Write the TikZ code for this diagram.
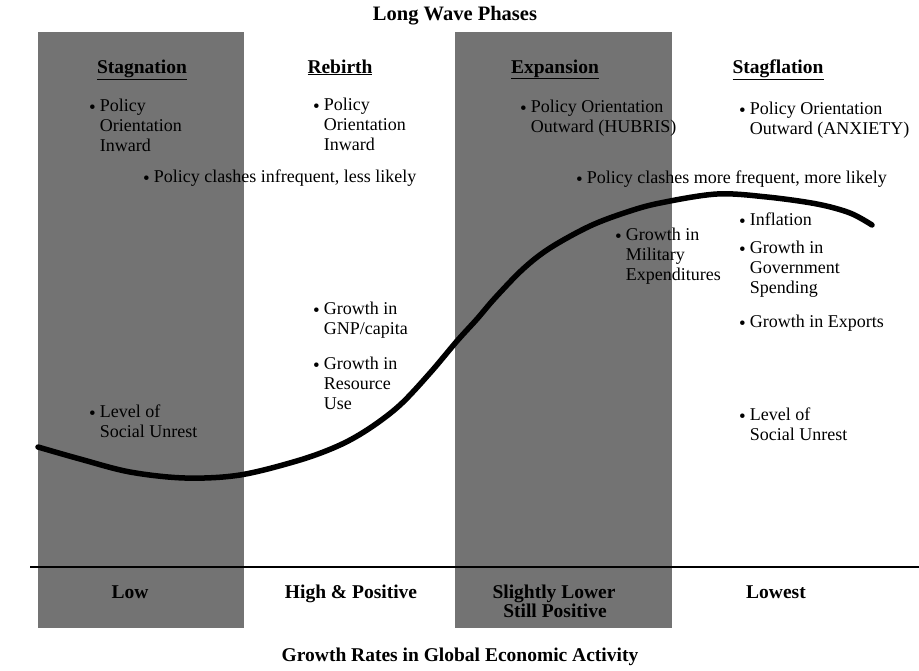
\documentclass[tikz,border=0pt]{standalone}
\usepackage{fontspec}
\setmainfont{Liberation Serif}
\newcommand{\bodyfs}{\fontsize{18}{20}\selectfont}
\newcommand{\headfs}{\fontsize{19.5}{21}\selectfont\bfseries}
\newcommand{\bul}{\raisebox{-2pt}{\fontsize{19}{19}\selectfont\textbullet}}
\newcommand{\itm}[1]{\begin{tabular}[t]{@{}l@{\hspace{4pt}}l@{}}\bul & #1\end{tabular}}
\tikzset{
  phasebox/.style={fill=black!55, draw=none},
  body/.style={font=\bodyfs, inner sep=0pt, anchor=base west},
  head/.style={font=\headfs, inner sep=0pt, anchor=base},
  curve/.style={line width=5.5pt, line cap=round, line join=round},
  axis/.style={line width=2.6pt}
}
\begin{document}
\begin{tikzpicture}[x=1pt,y=-1pt]
\useasboundingbox (0,0) rectangle (919,670);
% shaded phases
\fill[phasebox] (38,32) rectangle (244,628);
\fill[phasebox] (455,32) rectangle (672,628);
% axis line
\coordinate (axl) at (30,567);
\coordinate (axr) at (919,567);
\draw[axis] (axl) -- (axr);
% long wave curve
\draw[curve] plot[smooth, tension=0.55] coordinates {
 (38,447) (80,459) (130,472) (185,478) (240,475) (300,460) (340,445)
 (370,428) (400,405) (430,373) (457,341) (477,319) (495,298) (523,269)
 (550,248) (590,226) (627,212) (660,203) (717,194) (767,197) (817,204)
 (850,213) (872,225)};
% titles
\node[head, font=\fontsize{20.5}{22}\selectfont\bfseries] (title) at (455,20) {Long Wave Phases};
\node[head] (xtitle) at (460,661) {Growth Rates in Global Economic Activity};
% phase headings
\node[head] (h1) at (142,73) {\underline{Stagnation}};
\node[head] (h2) at (340,73) {\underline{Rebirth}};
\node[head] (h3) at (555,73) {\underline{Expansion}};
\node[head] (h4) at (778,73) {\underline{Stagflation}};
% stagnation
\node[body] (s1) at (89,111) {\itm{Policy\\ & Orientation\\ & Inward}};
\node[body] (s2) at (143,182) {\itm{Policy clashes infrequent, less likely}};
\node[body] (s3) at (89,417) {\itm{Level of\\ & Social Unrest}};
% rebirth
\node[body] (r1) at (313,110) {\itm{Policy\\ & Orientation\\ & Inward}};
\node[body] (r2) at (313,314) {\itm{Growth in\\ & GNP/capita}};
\node[body] (r3) at (313,369) {\itm{Growth in\\ & Resource\\ & Use}};
% expansion
\node[body] (e1) at (520,112) {\itm{Policy Orientation\\ & Outward (HUBRIS)}};
\node[body] (e2) at (576,183) {\itm{Policy clashes more frequent, more likely}};
\node[body] (e3) at (615,240) {\itm{Growth in\\ & Military\\ & Expenditures}};
% stagflation
\node[body] (f1) at (739,114) {\itm{Policy Orientation\\ & Outward (ANXIETY)}};
\node[body] (f2) at (739,225) {\itm{Inflation}};
\node[body] (f3) at (739,253) {\itm{Growth in\\ & Government\\ & Spending}};
\node[body] (f4) at (739,327) {\itm{Growth in Exports}};
\node[body] (f5) at (739,420) {\itm{Level of\\ & Social Unrest}};
% growth rate labels
\node[head] (g1) at (130,598) {Low};
\node[head] (g2) at (351,598) {High \& Positive};
\node[head] (g3) at (554,598) {Slightly Lower};
\node[head] (g3b) at (555,617) {Still Positive};
\node[head] (g4) at (776,598) {Lowest};
\end{tikzpicture}
\end{document}
